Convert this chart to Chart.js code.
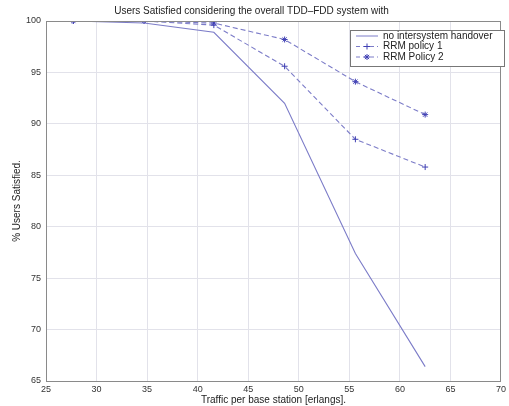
<!DOCTYPE html>
<html>
<head>
<meta charset="utf-8">
<script src="https://cdn.jsdelivr.net/npm/chart.js@4/dist/chart.umd.min.js"></script>
<style>
html,body{margin:0;padding:0;background:#fff;}
#wrap{width:509px;height:406px;position:relative;}
</style>
</head>
<body>
<div id="wrap"><canvas id="c" width="509" height="406"></canvas></div>
<script>
const traffic = [27.7, 34.7, 41.6, 48.6, 55.6, 62.5];
const noHandover = [100, 99.8, 98.9, 92.0, 77.4, 66.4];
const rrmPolicy1 = [100, 100, 99.6, 95.6, 88.5, 85.8];
const rrmPolicy2 = [100, 100, 99.8, 98.2, 94.1, 90.9];
const seriesNames = ['no intersystem handover', 'RRM policy 1', 'RRM Policy 2'];
const xTicks = [25, 30, 35, 40, 45, 50, 55, 60, 65, 70];
const yTicks = [65, 70, 75, 80, 85, 90, 95, 100];
const titleText = 'Users Satisfied considering the overall TDD\u2013FDD system with';
const xTitle = 'Traffic per base station [erlangs].';
const yTitle = '% Users Satisfied.';

const FONT = 'Liberation Sans, Arial, sans-serif';
const lineCol = '#7c7cc8';
const markCol = '#4040b4';

function pts(ys){ return traffic.map((x,i)=>({x:x, y:ys[i]})); }

const frame = {
  id:'frame',
  afterDraw(chart){
    const a = chart.chartArea, ctx = chart.ctx;
    ctx.save();
    ctx.strokeStyle = '#8a8a8a';
    ctx.lineWidth = 1;
    ctx.strokeRect(Math.round(a.left)+0.5, Math.round(a.top)+0.5, Math.round(a.right-a.left)-1, Math.round(a.bottom-a.top));
    // legend
    const lx = 350, ly = 30, lw = 154, lh = 36;
    ctx.fillStyle = '#fff';
    ctx.fillRect(lx, ly, lw, lh);
    ctx.strokeStyle = '#777';
    ctx.strokeRect(lx+0.5, ly+0.5, lw, lh);
    const rows = [36, 46.5, 57];
    const styles = [
      {dash:[], mark:null},
      {dash:[4,3], mark:'cross'},
      {dash:[4,3], mark:'star'}
    ];
    ctx.font = '10px ' + FONT;
    ctx.textBaseline = 'middle';
    rows.forEach((ry,i)=>{
      ctx.strokeStyle = lineCol;
      ctx.lineWidth = 1;
      ctx.setLineDash(styles[i].dash);
      ctx.beginPath(); ctx.moveTo(356, ry); ctx.lineTo(378, ry); ctx.stroke();
      ctx.setLineDash([]);
      if (styles[i].mark){
        ctx.strokeStyle = markCol;
        Chart.helpers.drawPoint(ctx, {pointStyle:styles[i].mark, radius:3, borderWidth:1}, 367, ry);
      }
      ctx.fillStyle = '#222';
      ctx.fillText(seriesNames[i], 383, ry);
    });
    ctx.restore();
  }
};

new Chart(document.getElementById('c'), {
  type:'line',
  data:{
    datasets:[
      {label:seriesNames[0], data:pts(noHandover), borderColor:lineCol, borderWidth:1.1, pointRadius:0, fill:false, tension:0},
      {label:seriesNames[1], data:pts(rrmPolicy1), borderColor:lineCol, borderWidth:1.1, borderDash:[5,3], pointStyle:'cross', pointRadius:3, pointBorderColor:markCol, pointBorderWidth:1, fill:false, tension:0},
      {label:seriesNames[2], data:pts(rrmPolicy2), borderColor:lineCol, borderWidth:1.1, borderDash:[5,3], pointStyle:'star', pointRadius:3, pointBorderColor:markCol, pointBorderWidth:1, fill:false, tension:0}
    ]
  },
  options:{
    responsive:false,
    animation:false,
    devicePixelRatio:1,
    layout:{padding:{top:1,right:6,left:0,bottom:0}},
    plugins:{
      legend:{display:false},
      tooltip:{enabled:false},
      title:{display:true, text:titleText, color:'#222', font:{family:FONT, size:10, weight:'normal'}, padding:{top:4,bottom:4}}
    },
    scales:{
      x:{
        type:'linear', min:25, max:70,
        afterFit(s){ s.height = 25; },
        afterBuildTicks(s){ s.ticks = xTicks.map(v=>({value:v})); },
        grid:{color:'#e2e2ea', drawTicks:false},
        border:{color:'#8a8a8a'},
        ticks:{color:'#333', font:{family:FONT, size:9}, padding:3},
        title:{display:true, text:xTitle, color:'#222', font:{family:FONT, size:10}, padding:{top:0,bottom:0}}
      },
      y:{
        type:'linear', min:65, max:100,
        afterFit(s){ s.width = 46; },
        afterBuildTicks(s){ s.ticks = yTicks.map(v=>({value:v})); },
        grid:{color:'#e2e2ea', drawTicks:false},
        border:{color:'#8a8a8a'},
        ticks:{color:'#333', font:{family:FONT, size:9}, padding:5},
        title:{display:true, text:yTitle, color:'#222', font:{family:FONT, size:10}, padding:{top:11,bottom:0}}
      }
    }
  },
  plugins:[frame]
});
</script>
</body>
</html>
